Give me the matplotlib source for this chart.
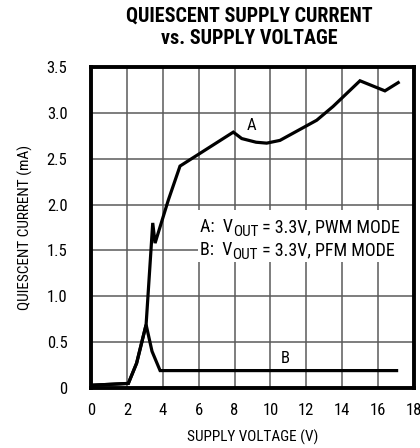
import matplotlib
matplotlib.use('Agg')
import matplotlib.pyplot as plt
from matplotlib.patches import Rectangle

FONT = ['Roboto Condensed', 'Archivo Narrow', 'PT Sans Narrow', 'DejaVu Sans']
plt.rcParams['font.family'] = FONT

# curve A: PWM mode
a_v = [0.0, 2.08, 2.54, 3.07, 3.44, 3.57, 4.31, 4.96, 7.93, 8.4, 9.2, 9.79, 10.53, 12.58, 13.49, 14.99, 16.38, 17.12]
a_i = [0.03, 0.05, 0.27, 0.69, 1.80, 1.58, 2.05, 2.42, 2.79, 2.72, 2.68, 2.67, 2.70, 2.92, 3.07, 3.35, 3.24, 3.33]

# curve B: PFM mode
b_v = [0.0, 2.08, 2.54, 3.07, 3.4, 3.85, 17.03]
b_i = [0.03, 0.05, 0.27, 0.69, 0.40, 0.19, 0.19]

xticks = [0, 2, 4, 6, 8, 10, 12, 14, 16, 18]
yticks = [0, 0.5, 1.0, 1.5, 2.0, 2.5, 3.0, 3.5]
ylabels = ['0', '0.5', '1.0', '1.5', '2.0', '2.5', '3.0', '3.5']

key = [('A:  V', 'OUT', ' = 3.3V, PWM MODE', 1.70),
       ('B:  V', 'OUT', ' = 3.3V, PFM MODE', 1.45)]

fig = plt.figure(figsize=(4.2, 4.48), dpi=100)
ax = fig.add_axes([0.2167, 0.1339, 0.7690, 0.7165])

ax.plot(a_v, a_i, color='black', lw=2.3, zorder=4, solid_joinstyle='miter')
ax.plot(b_v, b_i, color='black', lw=2.3, zorder=4, solid_joinstyle='miter')

ax.set_xlim(0, 18)
ax.set_ylim(0, 3.5)
ax.set_xticks(xticks)
ax.set_yticks(yticks)
ax.set_yticklabels(ylabels)
ax.grid(True, color='#5a5a5a', lw=1.1)
ax.set_axisbelow(True)
ax.tick_params(length=0, labelsize=12, pad=11)
ax.tick_params(axis='y', pad=17)
for s in ax.spines.values():
    s.set_linewidth(2.8)
    s.set_zorder(5)

# white box behind the key text
ax.add_patch(Rectangle((5.96, 1.37), 12.0, 0.57, facecolor='white', edgecolor='none', zorder=2))
for head, sub, tail, y in key:
    t1 = ax.text(6.07, y, head, fontsize=13, va='baseline', zorder=3)
    t2 = ax.annotate(sub, xy=(1, 0), xycoords=t1, xytext=(0, -2.0), textcoords='offset points',
                     fontsize=11, va='bottom', zorder=3)
    ax.annotate(tail, xy=(1, 0), xycoords=(t2, t1), fontsize=13, va='bottom', zorder=3)

ax.text(8.92, 2.86, 'A', fontsize=12, ha='center', va='center', zorder=3)
ax.text(10.8, 0.32, 'B', fontsize=12, ha='center', va='center', zorder=3)

ax.set_xlabel('SUPPLY VOLTAGE (V)', fontsize=11, labelpad=8)
ax.set_ylabel('QUIESCENT CURRENT (mA)', fontsize=11, labelpad=10)
fig.text(0.593, 0.9386, 'QUIESCENT SUPPLY CURRENT\nvs. SUPPLY VOLTAGE', ha='center', va='center',
         fontsize=14.5, fontweight='bold', linespacing=1.2)

fig.savefig('out.png', dpi=100)
